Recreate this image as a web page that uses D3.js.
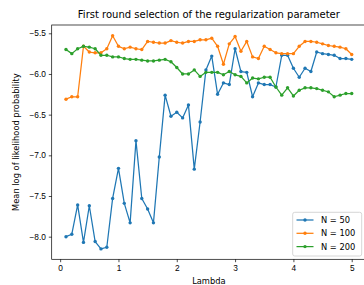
<!DOCTYPE html>
<html lang="en">
<head>
  <meta charset="UTF-8">
  <title>First round selection of the regularization parameter</title>
  <script src="https://d3js.org/d3.v7.min.js"></script>
  <style>
    body {
      margin: 0;
      background: #fff;
    }

    svg {
      display: block;
      font-family: "DejaVu Sans", sans-serif;
    }

    .axis path,
    .axis line {
      stroke: #000;
      stroke-width: 0.7;
    }

    .axis text {
      font-size: 8.3px;
      fill: #000;
    }
  </style>
</head>
<body>
  <svg id="chart"></svg>
  <script>
    const lambdas = [
      0.1, 0.2, 0.3, 0.4, 0.5, 0.6, 0.7, 0.8, 0.9, 1.0,
      1.1, 1.2, 1.3, 1.4, 1.5, 1.6, 1.7, 1.8, 1.9, 2.0,
      2.1, 2.2, 2.3, 2.4, 2.5, 2.6, 2.7, 2.8, 2.9, 3.0,
      3.1, 3.2, 3.3, 3.4, 3.5, 3.6, 3.7, 3.8, 3.9, 4.0,
      4.1, 4.2, 4.3, 4.4, 4.5, 4.6, 4.7, 4.8, 4.9, 5.0
    ];

    const n50 = [
      -8.00, -7.97, -7.61, -8.07, -7.62, -8.06, -8.15, -8.13, -7.53, -7.16,
      -7.59, -7.83, -6.82, -7.53, -7.66, -7.83, -7.02, -6.26, -6.52, -6.47,
      -6.54, -6.38, -7.17, -6.59, -5.95, -5.78, -6.25, -6.11, -6.13, -5.69,
      -5.97, -5.98, -6.28, -6.11, -6.13, -6.13, -6.16, -5.77, -5.77, -5.93,
      -6.04, -5.93, -5.97, -5.73, -5.75, -5.76, -5.77, -5.81, -5.81, -5.82
    ];

    const n100 = [
      -6.31, -6.28, -6.28, -5.66, -5.73, -5.74, -5.74, -5.69, -5.53, -5.66,
      -5.69, -5.67, -5.69, -5.70, -5.60, -5.61, -5.62, -5.62, -5.59, -5.61,
      -5.62, -5.60, -5.60, -5.58, -5.58, -5.56, -5.66, -5.88, -5.63, -5.54,
      -5.72, -5.60, -5.79, -5.81, -5.66, -5.70, -5.74, -5.75, -5.75, -5.75,
      -5.66, -5.60, -5.60, -5.61, -5.63, -5.65, -5.66, -5.67, -5.69, -5.76
    ];

    const n200 = [
      -5.70, -5.75, -5.69, -5.66, -5.67, -5.69, -5.77, -5.77, -5.79, -5.79,
      -5.81, -5.82, -5.82, -5.83, -5.84, -5.84, -5.83, -5.82, -5.85, -5.92,
      -6.00, -6.00, -5.95, -6.03, -5.98, -5.98, -5.98, -6.01, -5.97, -6.01,
      -6.03, -6.11, -6.05, -6.06, -6.04, -6.04, -6.16, -6.26, -6.17, -6.27,
      -6.20, -6.17, -6.17, -6.18, -6.20, -6.22, -6.28, -6.26, -6.24, -6.24
    ];

    const seriesNames = ["N = 50", "N = 100", "N = 200"];
    const xTicks = [0, 1, 2, 3, 4, 5];
    const yTicks = [-8.0, -7.5, -7.0, -6.5, -6.0, -5.5];

    const series = [n50, n100, n200];
    const colors = ["#1f77b4", "#ff7f0e", "#2ca02c"];

    const width = 364;
    const height = 285;
    const plotLeft = 51.7;
    const plotRight = 366;
    const plotTop = 25;
    const plotBottom = 259.3;

    const svg = d3.select("#chart")
      .attr("width", width)
      .attr("height", height);

    // matplotlib style 5% margins around the data
    const xScale = d3.scaleLinear()
      .domain([-0.145, 5.245])
      .range([plotLeft, plotRight]);

    const yScale = d3.scaleLinear()
      .domain([-8.278, -5.398])
      .range([plotBottom, plotTop]);

    // Axes frame
    svg.append("rect")
      .attr("x", plotLeft)
      .attr("y", plotTop)
      .attr("width", plotRight - plotLeft)
      .attr("height", plotBottom - plotTop)
      .attr("fill", "none")
      .attr("stroke", "#000")
      .attr("stroke-width", 0.7);

    svg.append("g")
      .attr("class", "axis")
      .attr("transform", `translate(0, ${plotBottom})`)
      .call(d3.axisBottom(xScale).tickValues(xTicks).tickFormat(d3.format("d"))
        .tickSize(2.9).tickPadding(2.9).tickSizeOuter(0))
      .call(g => g.select(".domain").remove());

    svg.append("g")
      .attr("class", "axis")
      .attr("transform", `translate(${plotLeft}, 0)`)
      .call(d3.axisLeft(yScale).tickValues(yTicks).tickFormat(d3.format(".1f"))
        .tickSize(2.9).tickPadding(2.9).tickSizeOuter(0))
      .call(g => g.select(".domain").remove());

    // Lines and markers
    const line = d3.line()
      .x((d, i) => xScale(lambdas[i]))
      .y(d => yScale(d));

    series.forEach((values, k) => {
      svg.append("path")
        .datum(values)
        .attr("fill", "none")
        .attr("stroke", colors[k])
        .attr("stroke-width", 1.25)
        .attr("stroke-linejoin", "round")
        .attr("d", line);

      svg.append("g")
        .selectAll("circle")
        .data(values)
        .enter()
        .append("circle")
        .attr("cx", (d, i) => xScale(lambdas[i]))
        .attr("cy", d => yScale(d))
        .attr("r", 1.7)
        .attr("fill", colors[k]);
    });

    // Title and labels
    svg.append("text")
      .attr("x", (plotLeft + plotRight) / 2)
      .attr("y", 18)
      .attr("text-anchor", "middle")
      .attr("font-size", "10px")
      .attr("fill", "#000")
      .text("First round selection of the regularization parameter");

    svg.append("text")
      .attr("x", (plotLeft + plotRight) / 2)
      .attr("y", 284)
      .attr("text-anchor", "middle")
      .attr("font-size", "8.3px")
      .attr("fill", "#000")
      .text("Lambda");

    svg.append("text")
      .attr("transform", `translate(19, ${(plotTop + plotBottom) / 2}) rotate(-90)`)
      .attr("text-anchor", "middle")
      .attr("font-size", "8.3px")
      .attr("fill", "#000")
      .text("Mean log of likelihood probability");

    // Legend
    const legend = svg.append("g");

    legend.append("rect")
      .attr("x", 292.7)
      .attr("y", 212.3)
      .attr("width", 69)
      .attr("height", 43.7)
      .attr("rx", 2)
      .attr("fill", "#fff")
      .attr("fill-opacity", 0.8)
      .attr("stroke", "#ccc")
      .attr("stroke-width", 0.8);

    seriesNames.forEach((name, k) => {
      const y = 220 + k * 13.3;
      legend.append("line")
        .attr("x1", 296.5)
        .attr("x2", 313.5)
        .attr("y1", y)
        .attr("y2", y)
        .attr("stroke", colors[k])
        .attr("stroke-width", 1.25);
      legend.append("circle")
        .attr("cx", 305)
        .attr("cy", y)
        .attr("r", 1.7)
        .attr("fill", colors[k]);
      legend.append("text")
        .attr("x", 321)
        .attr("y", y)
        .attr("dy", "0.35em")
        .attr("font-size", "8.3px")
        .attr("fill", "#000")
        .text(name);
    });
  </script>
</body>
</html>
